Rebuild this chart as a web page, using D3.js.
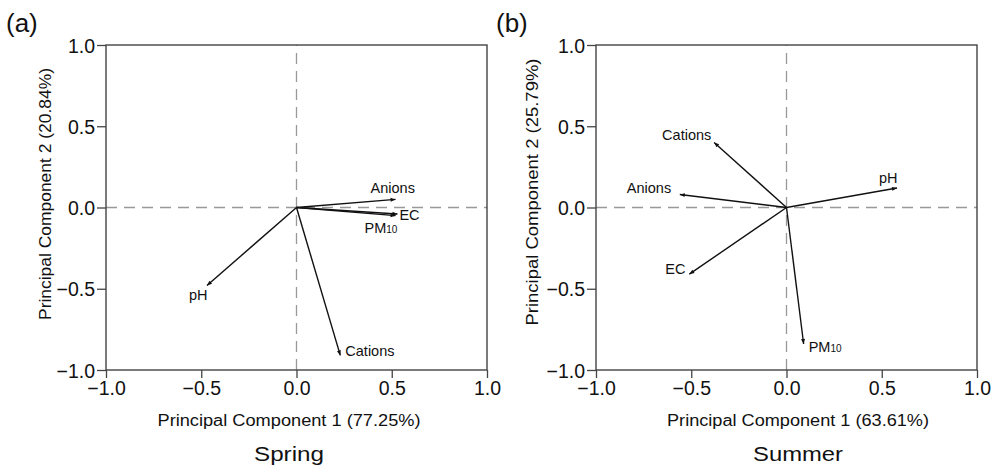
<!DOCTYPE html>
<html>
<head>
<meta charset="utf-8">
<script src="https://cdn.jsdelivr.net/npm/d3@7"></script>
<style>
  body { margin: 0; background: #fff; }
  svg { display: block; font-family: Arial, "Liberation Sans", Helvetica, sans-serif; }
</style>
</head>
<body>
<svg id="chart" width="994" height="468"></svg>
<script>
// loadings
var variables = ['Anions', 'EC', 'PM10', 'pH', 'Cations'];

var springPC1 = [0.52, 0.53, 0.52, -0.47, 0.23];
var springPC2 = [0.05, -0.04, -0.05, -0.48, -0.91];

var summerPC1 = [-0.56, -0.51, 0.09, 0.58, -0.38];
var summerPC2 = [0.08, -0.41, -0.84, 0.12, 0.40];

var ticks = [-1.0, -0.5, 0.0, 0.5, 1.0];
var panelTags = ['(a)', '(b)'];
var seasons = ['Spring', 'Summer'];
var xTitles = ['Principal Component 1 (77.25%)', 'Principal Component 1 (63.61%)'];
var yTitles = ['Principal Component 2 (20.84%)', 'Principal Component 2 (25.79%)'];

// layout only
var panels = [
    {left: 106, right: 487, tagX: 6, xTitleX: 289, xTitleLen: 263, yTitleX: 51, yTitleY: 194, yTitleLen: 252,
     labelOff: {Anions: [-25, -11], EC: [2, 1], PM10: [-31, 12], pH: [-18, 9], Cations: [5, -4]}},
    {left: 596, right: 977, tagX: 496, xTitleX: 798, xTitleLen: 262, yTitleX: 538, yTitleY: 192, yTitleLen: 267,
     labelOff: {Anions: [-53, -7], EC: [-24, -5], PM10: [5, 3], pH: [-18, -10], Cations: [-52, -8]}}
];
var plotTop = 45, plotBottom = 370;

var svg = d3.select('#chart');

svg.append('defs').append('marker')
    .attr('id', 'head')
    .attr('viewBox', '0 0 10 10')
    .attr('refX', 10).attr('refY', 5)
    .attr('markerWidth', 6).attr('markerHeight', 5)
    .attr('markerUnits', 'userSpaceOnUse')
    .attr('orient', 'auto')
    .append('path')
    .attr('d', 'M0,1L10,5L0,9Z')
    .attr('fill', '#111');

var fmt = function (d) { return d3.format('.1f')(d).replace('-', '\u2212'); };

function drawPanel(i, pc1, pc2) {
    var p = panels[i];
    var x = d3.scaleLinear().domain([-1, 1]).range([p.left, p.right]);
    var y = d3.scaleLinear().domain([-1, 1]).range([plotBottom, plotTop]);
    var g = svg.append('g');

    // zero lines
    g.append('line')
        .attr('x1', x(-1)).attr('x2', x(1))
        .attr('y1', y(0)).attr('y2', y(0))
        .attr('stroke', '#999').attr('stroke-width', 1.3)
        .attr('stroke-dasharray', '11,7');
    g.append('line')
        .attr('x1', x(0)).attr('x2', x(0))
        .attr('y1', y(-1)).attr('y2', y(1))
        .attr('stroke', '#999').attr('stroke-width', 1.3)
        .attr('stroke-dasharray', '11,7');

    var xAxis = g.append('g')
        .attr('transform', 'translate(0,' + plotBottom + ')')
        .call(d3.axisBottom(x).tickValues(ticks).tickFormat(fmt).tickSize(8).tickPadding(3).tickSizeOuter(0));
    var yAxis = g.append('g')
        .attr('transform', 'translate(' + p.left + ',0)')
        .call(d3.axisLeft(y).tickValues(ticks).tickFormat(fmt).tickSize(9).tickPadding(2).tickSizeOuter(0));

    [xAxis, yAxis].forEach(function (a) {
        a.select('.domain').remove();
        a.selectAll('line').attr('stroke', '#444').attr('stroke-width', 1.3);
        a.selectAll('text').attr('fill', '#111').style('font-size', '19.5px');
    });
    yAxis.selectAll('text').attr('dy', '0.36em');

    // frame
    g.append('rect')
        .attr('x', x(-1)).attr('y', y(1))
        .attr('width', x(1) - x(-1)).attr('height', y(-1) - y(1))
        .attr('fill', 'none').attr('stroke', '#444').attr('stroke-width', 1.4);

    var rows = variables.map(function (v, k) { return {name: v, a: pc1[k], b: pc2[k]}; });

    g.selectAll('line.arrow').data(rows).enter()
        .append('line')
        .attr('class', 'arrow')
        .attr('x1', x(0)).attr('y1', y(0))
        .attr('x2', function (d) { return x(d.a); })
        .attr('y2', function (d) { return y(d.b); })
        .attr('stroke', '#111').attr('stroke-width', 1.4)
        .attr('marker-end', 'url(#head)');

    var lab = g.selectAll('text.lab').data(rows).enter()
        .append('text')
        .attr('class', 'lab')
        .attr('x', function (d) { return x(d.a) + p.labelOff[d.name][0]; })
        .attr('y', function (d) { return y(d.b) + p.labelOff[d.name][1]; })
        .attr('dy', '0.35em')
        .attr('fill', '#111')
        .style('font-size', '14.5px');
    lab.each(function (d) {
        var t = d3.select(this);
        if (d.name === 'PM10') {
            t.append('tspan').text('PM');
            t.append('tspan').text('10').style('font-size', '10px');
        } else {
            t.text(d.name);
        }
    });

    // titles
    g.append('text')
        .attr('x', p.xTitleX).attr('y', 426)
        .attr('text-anchor', 'middle')
        .attr('textLength', p.xTitleLen).attr('lengthAdjust', 'spacingAndGlyphs')
        .attr('fill', '#111').style('font-size', '16px')
        .text(xTitles[i]);

    g.append('text')
        .attr('transform', 'translate(' + p.yTitleX + ',' + p.yTitleY + ') rotate(-90)')
        .attr('text-anchor', 'middle')
        .attr('textLength', p.yTitleLen).attr('lengthAdjust', 'spacingAndGlyphs')
        .attr('fill', '#111').style('font-size', '16px')
        .text(yTitles[i]);

    g.append('text')
        .attr('x', p.xTitleX).attr('y', 461)
        .attr('text-anchor', 'middle')
        .attr('textLength', i === 0 ? 70 : 90).attr('lengthAdjust', 'spacingAndGlyphs')
        .attr('fill', '#111').style('font-size', '20.5px')
        .text(seasons[i]);

    g.append('text')
        .attr('x', p.tagX).attr('y', 32)
        .attr('fill', '#111').style('font-size', '26px')
        .text(panelTags[i]);
}

drawPanel(0, springPC1, springPC2);
drawPanel(1, summerPC1, summerPC2);
</script>
</body>
</html>
